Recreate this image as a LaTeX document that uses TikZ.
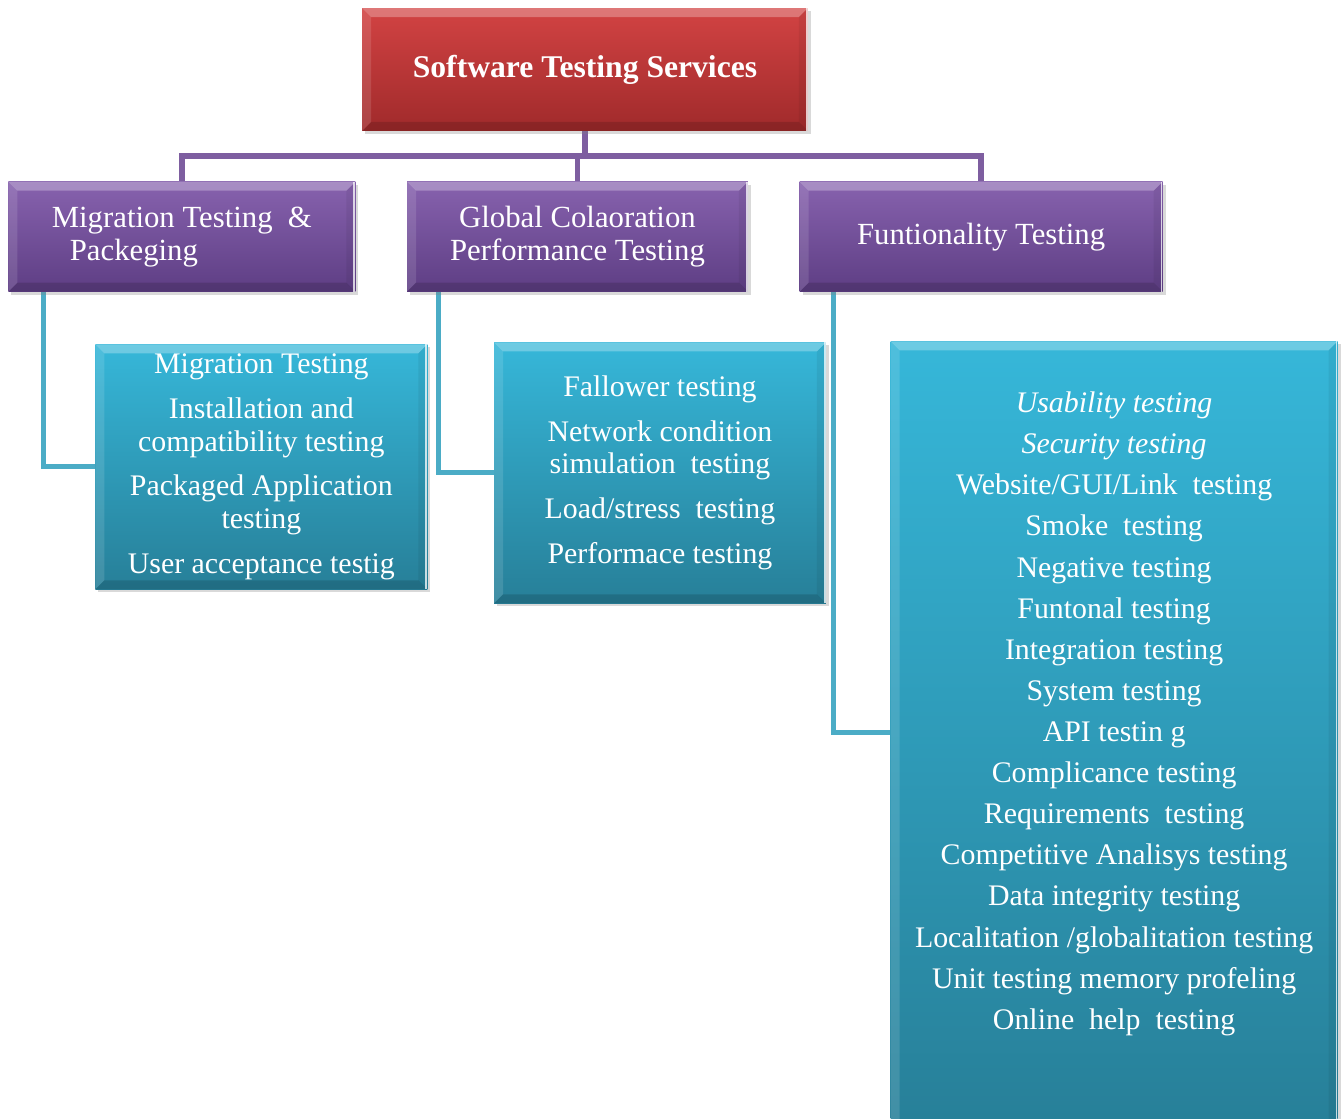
\documentclass[tikz,border=0pt]{standalone}
\usepackage{fontspec}
\setmainfont{Liberation Serif}
\usetikzlibrary{calc,positioning,backgrounds,shadows}
\definecolor{redtop}{HTML}{D24343}
\definecolor{redbot}{HTML}{A02A2B}
\definecolor{purptop}{HTML}{8762AE}
\definecolor{purpbot}{HTML}{5E3E84}
\definecolor{tealtop}{HTML}{36B7D9}
\definecolor{tealbot}{HTML}{277F98}
\definecolor{purpline}{HTML}{7E5EA0}
\definecolor{tealline}{HTML}{4BACC6}
\tikzset{
  node distance=1cm,
  bevel/.style={path picture={
      \coordinate (bnw) at (path picture bounding box.north west);
      \coordinate (bne) at (path picture bounding box.north east);
      \coordinate (bsw) at (path picture bounding box.south west);
      \coordinate (bse) at (path picture bounding box.south east);
      \fill[white,opacity=.28] (bnw) -- (bne) -- ($(bne)+(-9,9)$) -- ($(bnw)+(9,9)$) -- cycle;
      \fill[white,opacity=.12] (bnw) -- ($(bnw)+(9,9)$) -- ($(bsw)+(9,-9)$) -- (bsw) -- cycle;
      \fill[black,opacity=.14] (bsw) -- (bse) -- ($(bse)+(-9,-9)$) -- ($(bsw)+(9,-9)$) -- cycle;
      \fill[black,opacity=.06] (bne) -- (bse) -- ($(bse)+(-9,-9)$) -- ($(bne)+(-9,9)$) -- cycle;
      \draw[white,opacity=.75,line width=1pt] ($(bne)+(-1,0)$) -- ($(bse)+(-1,0)$);
  }},
  box/.style={rectangle, bevel, text=white, align=center,
              drop shadow={shadow xshift=.06cm,shadow yshift=-.06cm,opacity=.3}},
  rootbox/.style={box, top color=redtop, bottom color=redbot,
                  minimum width=8.92cm, minimum height=2.46cm,
                  font=\fontsize{18}{21}\selectfont\bfseries},
  groupbox/.style={box, top color=purptop, bottom color=purpbot,
                   minimum height=2.2cm, font=\fontsize{17.5}{18.7}\selectfont},
  listbox/.style={box, top color=tealtop, bottom color=tealbot,
                  font=\fontsize{17}{18.7}\selectfont},
  listtext/.style={text=white, align=center, font=\fontsize{17}{23.4}\selectfont},
  purplink/.style={draw=purpline, line width=3.4pt},
  teallink/.style={draw=tealline, line width=2.8pt}
}

\begin{document}
\begin{tikzpicture}[x=0.02cm,y=-0.02cm]
  \useasboundingbox (0,0) rectangle (1343,1119);

  % top of the tree
  \node[rootbox] (root) at (585,69.5) {Software Testing Services};

  % service groups
  \node[groupbox, minimum width=6.82cm, below=1cm of root, xshift=-0.15cm] (glob)
       {Global Colaoration\\Performance Testing};
  \node[groupbox, minimum width=6.94cm, left=1.02cm of glob, align=left] (mig)
       {Migration Testing \ \&\\\hspace*{0.36cm}Packeging};
  \node[groupbox, minimum width=7.26cm, right=1.02cm of glob] (func)
       {Funtionality Testing};

  % testing lists
  \node[listbox, minimum width=6.64cm, minimum height=4.9cm,
        below right=1.04cm and 1.74cm of mig.south west] (migtest)
       {Migration Testing\\[6.8pt]
        Installation and\\compatibility testing\\[6.8pt]
        Packaged Application\\testing\\[6.8pt]
        User acceptance testig};
  \node[listbox, minimum width=6.64cm, minimum height=5.22cm,
        below right=1cm and 1.74cm of glob.south west] (globtest)
       {Fallower testing\\[6.8pt]
        Network condition\\simulation \ testing\\[6.8pt]
        Load/stress \ testing\\[6.8pt]
        Performace testing};
  \node[listbox, minimum width=8.94cm, minimum height=15.8cm,
        below right=0.98cm and 1.82cm of func.south west] (funcbox) {};
  \node[listtext, yshift=0.45cm] (funclist) at (funcbox.center)
       {\textit{Usability testing}\\
        \textit{Security testing}\\
        Website/GUI/Link \ testing\\
        Smoke \ testing\\
        Negative testing\\
        Funtonal testing\\
        Integration testing\\
        System testing\\
        API testin g\\
        Complicance testing\\
        Requirements \ testing\\
        Competitive Analisys testing\\
        Data integrity testing\\
        Localitation /globalitation testing\\
        Unit testing memory profeling\\
        Online \ help \ testing};

  \begin{scope}[on background layer]
    \draw[purplink] (root.south) -- ++(0,25) coordinate (hub);
    \draw[purplink] (mig.north) |- (hub) -| (func.north);
    \draw[purplink] (glob.north) -- (glob.north |- hub);

    \draw[teallink] ($(mig.south west)+(35,0)$) |- (migtest.west);
    \draw[teallink] ($(glob.south west)+(32,0)$) |- (globtest.west);
    \draw[teallink] ($(func.south west)+(34,0)$) |- ([yshift=0.08cm]funcbox.west);
  \end{scope}
\end{tikzpicture}
\end{document}
